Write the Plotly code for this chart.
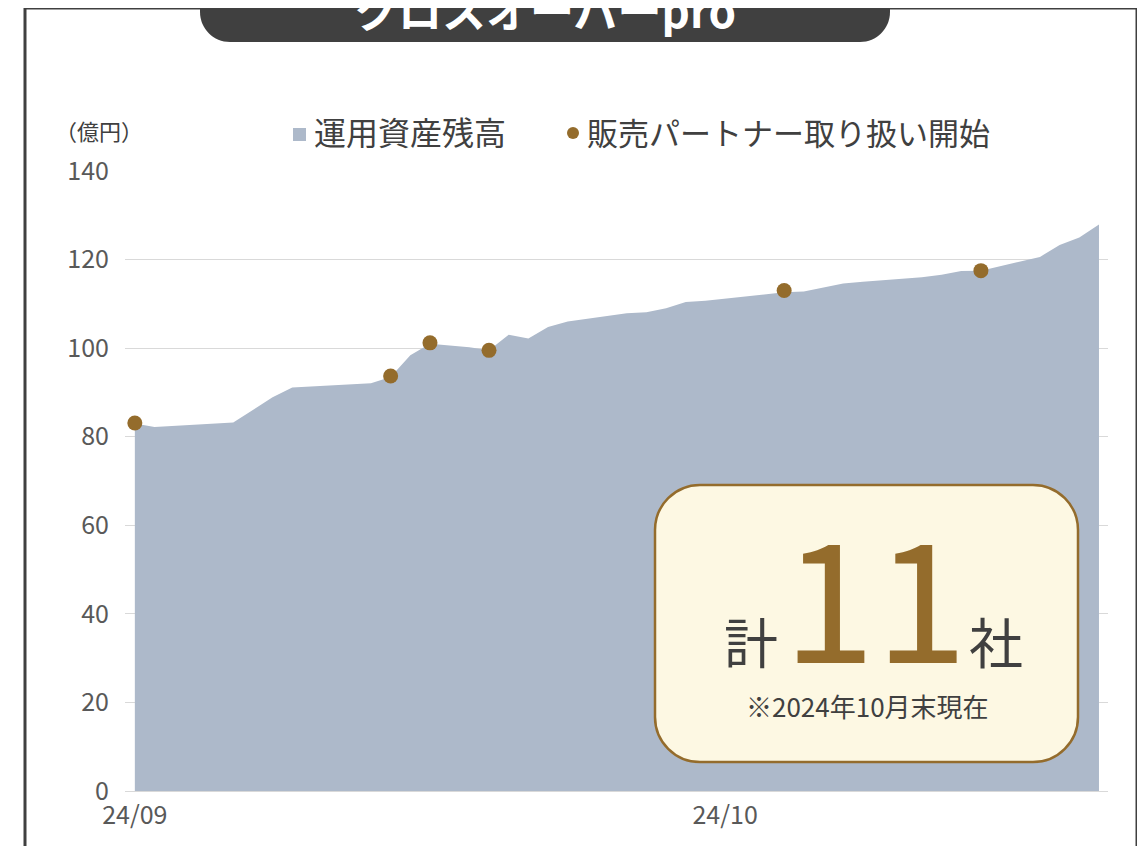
"""
クロスオーバーpro 運用資産残高と販売パートナー取り扱い開始
"""

import plotly.graph_objects as go

# 運用資産残高 (億円)
aum_dates = [
    "2024-09-01", "2024-09-02", "2024-09-06", "2024-09-08", "2024-09-09",
    "2024-09-13", "2024-09-14", "2024-09-15", "2024-09-16", "2024-09-17",
    "2024-09-18", "2024-09-19", "2024-09-20", "2024-09-21", "2024-09-22",
    "2024-09-23", "2024-09-26", "2024-09-27", "2024-09-28", "2024-09-29",
    "2024-09-30", "2024-10-04", "2024-10-05", "2024-10-07", "2024-10-08",
    "2024-10-11", "2024-10-12", "2024-10-13", "2024-10-14", "2024-10-17",
    "2024-10-18", "2024-10-19", "2024-10-20",
]
aum_values = [
    83.0, 82.2, 83.2, 88.9, 91.1,
    92.1, 93.5, 98.4, 101.0, 100.6,
    100.2, 99.5, 103.0, 102.2, 104.8,
    106.0, 107.9, 108.1, 109.0, 110.4,
    110.7, 112.6, 112.8, 114.6, 115.0,
    116.0, 116.6, 117.4, 117.5, 120.6,
    123.3, 125.0, 127.9,
]

# 販売パートナー取り扱い開始
partner_dates = ["2024-09-01", "2024-09-14", "2024-09-16", "2024-09-19",
                 "2024-10-04", "2024-10-14"]
partner_values = [83.1, 93.7, 101.2, 99.5, 113.0, 117.5]

y_ticks = [0, 20, 40, 60, 80, 100, 120, 140]
x_tickvals = ["2024-09-01", "2024-10-01"]
x_ticktext = ["24/09", "24/10"]

AREA_COLOR = "#ADB9CA"
BROWN = "#946C2C"
DARK = "#404040"
FONT = "Noto Sans CJK JP"

# page offset of the plot div (body margin)
OFF = 8
W, H = 1137, 838
# plot area in page pixels
L, R, T, B = 125, 1108, 171, 791


def px(x):
    return (x - L) / (R - L)


def py(y):
    return (B - y) / (B - T)


def rounded_rect(x0, y0, x1, y1, r):
    # page pixel coords -> paper path with rounded corners
    k = 0.4477 * r
    pts = [
        ("M", [(x0 + r, y0)]),
        ("L", [(x1 - r, y0)]),
        ("C", [(x1 - k, y0), (x1, y0 + k), (x1, y0 + r)]),
        ("L", [(x1, y1 - r)]),
        ("C", [(x1, y1 - k), (x1 - k, y1), (x1 - r, y1)]),
        ("L", [(x0 + r, y1)]),
        ("C", [(x0 + k, y1), (x0, y1 - k), (x0, y1 - r)]),
        ("L", [(x0, y0 + r)]),
        ("C", [(x0, y0 + k), (x0 + k, y0), (x0 + r, y0)]),
    ]
    out = []
    for cmd, coords in pts:
        out.append(cmd + " " + " ".join(f"{px(a):.5f},{py(b):.5f}" for a, b in coords))
    return " ".join(out) + " Z"


fig = go.Figure()

fig.add_trace(go.Scatter(
    x=aum_dates,
    y=aum_values,
    mode="lines",
    fill="tozeroy",
    fillcolor=AREA_COLOR,
    line=dict(width=0, color=AREA_COLOR),
    name="運用資産残高",
    hoverinfo="skip",
))

fig.add_trace(go.Scatter(
    x=partner_dates,
    y=partner_values,
    mode="markers",
    marker=dict(size=15, color=BROWN),
    name="販売パートナー取り扱い開始",
))

shapes = [
    # outer frame
    dict(type="rect", xref="paper", yref="paper",
         x0=px(25), x1=px(1137), y0=py(8), y1=py(950),
         line=dict(color=DARK, width=3), fillcolor="rgba(0,0,0,0)"),
    # title tab
    dict(type="path", xref="paper", yref="paper",
         path=rounded_rect(200, -40, 890, 42, 30),
         fillcolor=DARK, line=dict(width=0)),
    # info box
    dict(type="path", xref="paper", yref="paper",
         path=rounded_rect(655, 485, 1078, 762, 45),
         fillcolor="#FDF8E3", line=dict(color=BROWN, width=2.5)),
    # legend glyphs
    dict(type="rect", xref="paper", yref="paper",
         x0=px(293), x1=px(306), y0=py(141), y1=py(128),
         fillcolor=AREA_COLOR, line=dict(width=0)),
    dict(type="circle", xref="paper", yref="paper",
         x0=px(567), x1=px(579), y0=py(139), y1=py(127),
         fillcolor=BROWN, line=dict(width=0)),
]


def note(text, x, y, size, color=DARK, xanchor="center", bold=False):
    return dict(
        text=f"<b>{text}</b>" if bold else text,
        xref="paper", yref="paper", x=px(x), y=py(y),
        xanchor=xanchor, yanchor="middle", showarrow=False,
        font=dict(family=FONT, size=size, color=color),
    )


annotations = [
    note("クロスオーバーpro", 545, 9, 44, color="white", bold=True),
    note("（億円）", 99, 130, 22),
    note("運用資産残高", 312, 131, 32, xanchor="left"),
    note("販売パートナー取り扱い開始", 585, 131, 31, xanchor="left"),
    note("計", 751, 640, 54),
    note("11", 875, 590, 166, color=BROWN),
    note("社", 996, 640, 54),
    note("※2024年10月末現在", 867, 705, 26),
]

fig.update_layout(
    width=W,
    height=H,
    margin=dict(l=L - OFF, r=W - (R - OFF), t=T - OFF, b=H - (B - OFF)),
    paper_bgcolor="white",
    plot_bgcolor="white",
    showlegend=False,
    shapes=shapes,
    annotations=annotations,
    font=dict(family=FONT, color="#595959"),
)

fig.update_xaxes(
    type="date",
    range=["2024-08-31 12:00", "2024-10-20 11:00"],
    tickvals=x_tickvals,
    ticktext=x_ticktext,
    showgrid=False,
    showline=True,
    linecolor="#D9D9D9",
    linewidth=1,
    tickfont=dict(size=25, color="#595959"),
    ticklabelstandoff=2,
)

fig.update_yaxes(
    range=[0, 140],
    tickvals=y_ticks,
    gridcolor="#D9D9D9",
    gridwidth=1,
    zeroline=False,
    tickfont=dict(size=25, color="#595959"),
    ticklabelstandoff=15,
)

fig.write_html("out.html")
